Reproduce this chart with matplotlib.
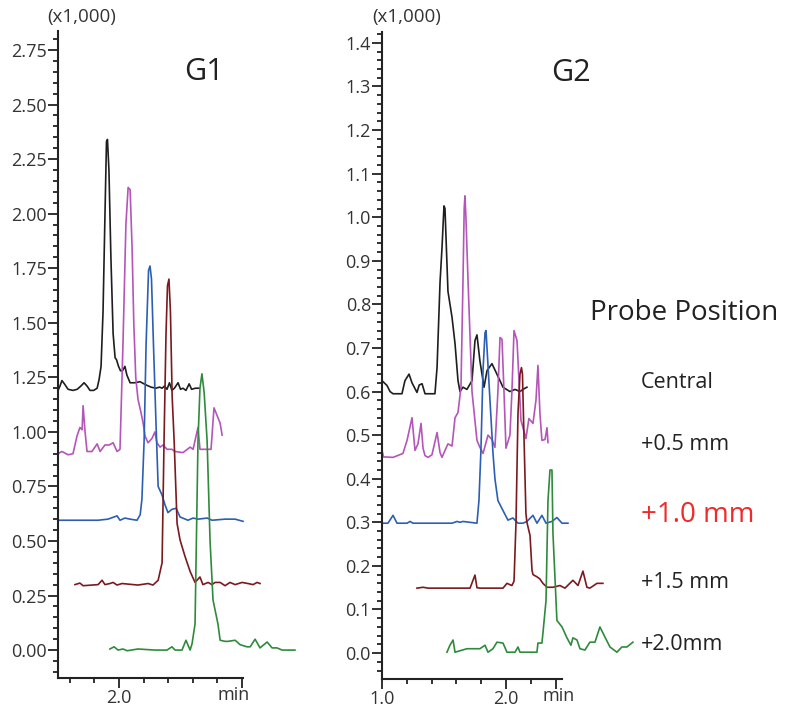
import numpy as np
import matplotlib
matplotlib.use("Agg")
import matplotlib.pyplot as plt
from matplotlib.ticker import MultipleLocator, FixedLocator
import matplotlib.transforms as mtransforms

plt.rcParams["font.family"] = ["Open Sans", "DejaVu Sans"]

# ---- G1 traces (time in min, intensity x1,000) ----
g1_central_t = [1.752, 1.760, 1.768, 1.778, 1.793, 1.813, 1.830, 1.845, 1.858, 1.870, 1.882, 1.897,
                1.911, 1.919, 1.927, 1.935, 1.943, 1.949, 1.953, 1.959, 1.967, 1.976, 1.984, 1.990,
                1.998, 2.006, 2.014, 2.024, 2.032, 2.045, 2.065, 2.085, 2.110, 2.130, 2.150, 2.165,
                2.175, 2.185, 2.195, 2.205, 2.215, 2.225, 2.240, 2.250, 2.260, 2.272, 2.285, 2.295,
                2.310, 2.325]
g1_central_y = [1.19, 1.21, 1.235, 1.22, 1.195, 1.19, 1.195, 1.21, 1.225, 1.21, 1.19, 1.19,
                1.20, 1.24, 1.30, 1.55, 2.00, 2.33, 2.34, 2.20, 1.80, 1.45, 1.34, 1.33,
                1.30, 1.28, 1.28, 1.30, 1.26, 1.225, 1.225, 1.23, 1.215, 1.205, 1.20, 1.205,
                1.20, 1.21, 1.195, 1.225, 1.19, 1.20, 1.225, 1.195, 1.20, 1.19, 1.22, 1.195,
                1.20, 1.20]

g1_p05_t = [1.752, 1.768, 1.793, 1.813, 1.829, 1.841, 1.850, 1.854, 1.862, 1.870, 1.890, 1.911,
            1.923, 1.943, 1.960, 1.976, 1.992, 2.004, 2.016, 2.028, 2.037, 2.045, 2.053, 2.060,
            2.068, 2.077, 2.089, 2.098, 2.106, 2.118, 2.134, 2.146, 2.154, 2.167, 2.179, 2.195,
            2.215, 2.228, 2.260, 2.289, 2.301, 2.321, 2.329, 2.374, 2.386, 2.411, 2.419]
g1_p05_y = [0.90, 0.91, 0.895, 0.90, 0.98, 1.02, 1.01, 1.12, 1.00, 0.91, 0.91, 0.945,
            0.91, 0.94, 0.94, 0.95, 0.91, 0.92, 1.40, 1.95, 2.12, 2.11, 1.85, 1.50,
            1.25, 1.15, 1.09, 1.04, 0.98, 0.95, 0.97, 1.00, 0.95, 0.93, 0.94, 0.92,
            0.92, 0.91, 0.905, 0.93, 0.92, 1.02, 0.92, 0.92, 1.11, 1.04, 0.985]

g1_p10_t = [1.752, 1.915, 1.955, 1.992, 2.004, 2.024, 2.045, 2.073, 2.086, 2.093, 2.102, 2.110,
            2.120, 2.126, 2.132, 2.140, 2.150, 2.159, 2.175, 2.187, 2.199, 2.215, 2.232, 2.248,
            2.280, 2.301, 2.321, 2.358, 2.378, 2.431, 2.472, 2.504]
g1_p10_y = [0.595, 0.595, 0.60, 0.615, 0.595, 0.605, 0.60, 0.595, 0.62, 0.69, 0.96, 1.40,
            1.74, 1.76, 1.70, 1.40, 1.05, 0.75, 0.71, 0.665, 0.63, 0.645, 0.65, 0.61,
            0.595, 0.605, 0.60, 0.605, 0.595, 0.60, 0.60, 0.59]

g1_p15_t = [1.821, 1.841, 1.854, 1.915, 1.931, 1.943, 1.963, 1.976, 1.992, 2.012, 2.077, 2.118,
            2.138, 2.159, 2.175, 2.183, 2.191, 2.197, 2.203, 2.209, 2.216, 2.224, 2.236, 2.248,
            2.268, 2.289, 2.309, 2.329, 2.341, 2.362, 2.378, 2.390, 2.411, 2.431, 2.451, 2.472,
            2.500, 2.524, 2.545, 2.561, 2.573]
g1_p15_y = [0.30, 0.307, 0.295, 0.30, 0.32, 0.30, 0.305, 0.31, 0.298, 0.305, 0.298, 0.305,
            0.298, 0.32, 0.40, 0.96, 1.45, 1.67, 1.70, 1.55, 1.16, 0.96, 0.58, 0.505,
            0.43, 0.36, 0.31, 0.335, 0.30, 0.31, 0.30, 0.31, 0.31, 0.295, 0.31, 0.30,
            0.31, 0.305, 0.30, 0.31, 0.305]

g1_p20_t = [1.963, 1.980, 1.996, 2.016, 2.033, 2.077, 2.146, 2.195, 2.215, 2.228, 2.256, 2.272,
            2.289, 2.297, 2.309, 2.321, 2.329, 2.337, 2.346, 2.358, 2.370, 2.382, 2.402, 2.411,
            2.431, 2.443, 2.472, 2.492, 2.520, 2.533, 2.553, 2.573, 2.602, 2.622, 2.642, 2.663,
            2.687, 2.715]
g1_p20_y = [0.005, 0.015, 0.0, 0.005, -0.003, 0.005, 0.0, 0.0, 0.015, 0.0, 0.0, 0.045,
            0.0, 0.03, 0.12, 0.96, 1.20, 1.266, 1.18, 0.96, 0.50, 0.23, 0.12, 0.045,
            0.04, 0.04, 0.045, 0.025, 0.015, 0.015, 0.05, 0.01, 0.037, 0.01, 0.01, 0.0,
            0.0, 0.0]

# ---- G2 traces ----
g2_central_t = [1.000, 1.040, 1.065, 1.089, 1.161, 1.185, 1.218, 1.242, 1.282, 1.300, 1.323, 1.347,
                1.427, 1.444, 1.468, 1.484, 1.500, 1.508, 1.532, 1.565, 1.589, 1.613, 1.629, 1.653,
                1.685, 1.726, 1.750, 1.766, 1.790, 1.823, 1.847, 1.887, 1.927, 1.976, 2.032, 2.073,
                2.113, 2.137, 2.169]
g2_central_y = [0.625, 0.614, 0.60, 0.595, 0.595, 0.625, 0.64, 0.62, 0.598, 0.615, 0.618, 0.595,
                0.595, 0.655, 0.85, 0.93, 1.026, 1.02, 0.83, 0.77, 0.71, 0.625, 0.60, 0.61,
                0.605, 0.625, 0.717, 0.73, 0.67, 0.61, 0.648, 0.664, 0.64, 0.61, 0.60, 0.605,
                0.60, 0.605, 0.61]

g2_p05_t = [1.000, 1.012, 1.024, 1.089, 1.169, 1.202, 1.242, 1.266, 1.290, 1.315, 1.331, 1.347,
            1.371, 1.403, 1.444, 1.468, 1.484, 1.508, 1.532, 1.565, 1.589, 1.613, 1.637, 1.653,
            1.663, 1.669, 1.677, 1.694, 1.726, 1.766, 1.790, 1.815, 1.855, 1.887, 1.911, 1.935,
            1.952, 1.968, 1.984, 2.000, 2.032, 2.048, 2.065, 2.089, 2.121, 2.161, 2.185, 2.218,
            2.242, 2.258, 2.274, 2.290, 2.315, 2.331, 2.339]
g2_p05_y = [0.465, 0.45, 0.45, 0.449, 0.458, 0.488, 0.54, 0.465, 0.48, 0.527, 0.47, 0.453,
            0.449, 0.455, 0.506, 0.46, 0.449, 0.465, 0.48, 0.475, 0.54, 0.552, 0.61, 0.85,
            1.02, 1.049, 1.00, 0.854, 0.60, 0.488, 0.472, 0.458, 0.50, 0.49, 0.472, 0.60,
            0.724, 0.72, 0.60, 0.47, 0.50, 0.60, 0.74, 0.717, 0.534, 0.492, 0.538, 0.527,
            0.58, 0.66, 0.55, 0.488, 0.49, 0.517, 0.483]

g2_p10_t = [1.000, 1.048, 1.089, 1.121, 1.202, 1.226, 1.250, 1.565, 1.605, 1.629, 1.653, 1.766,
            1.782, 1.798, 1.815, 1.831, 1.839, 1.847, 1.863, 1.871, 1.895, 1.911, 1.935, 1.976,
            2.016, 2.056, 2.097, 2.137, 2.169, 2.218, 2.250, 2.290, 2.323, 2.371, 2.411, 2.452,
            2.500]
g2_p10_y = [0.298, 0.298, 0.316, 0.298, 0.298, 0.302, 0.298, 0.298, 0.302, 0.30, 0.302, 0.298,
            0.35, 0.465, 0.65, 0.735, 0.74, 0.70, 0.62, 0.58, 0.46, 0.40, 0.35, 0.327,
            0.305, 0.31, 0.298, 0.298, 0.302, 0.316, 0.298, 0.316, 0.298, 0.302, 0.311, 0.298,
            0.298]

g2_p15_t = [1.282, 1.331, 1.371, 1.710, 1.734, 1.750, 1.766, 1.790, 1.976, 2.008, 2.048, 2.065,
            2.081, 2.097, 2.113, 2.125, 2.133, 2.145, 2.161, 2.169, 2.194, 2.210, 2.218, 2.250,
            2.274, 2.298, 2.331, 2.379, 2.435, 2.476, 2.540, 2.581, 2.621, 2.653, 2.677, 2.734,
            2.782]
g2_p15_y = [0.149, 0.151, 0.149, 0.149, 0.167, 0.179, 0.15, 0.149, 0.149, 0.16, 0.155, 0.165,
            0.30, 0.55, 0.64, 0.655, 0.64, 0.50, 0.32, 0.30, 0.27, 0.19, 0.18, 0.175,
            0.17, 0.16, 0.151, 0.151, 0.155, 0.149, 0.167, 0.155, 0.188, 0.151, 0.149, 0.16,
            0.16]

g2_p20_t = [1.524, 1.548, 1.573, 1.589, 1.685, 1.790, 1.831, 1.855, 1.895, 1.927, 1.976, 2.008,
            2.073, 2.097, 2.113, 2.250, 2.258, 2.290, 2.298, 2.323, 2.339, 2.355, 2.371, 2.379,
            2.411, 2.452, 2.492, 2.524, 2.540, 2.573, 2.597, 2.637, 2.677, 2.718, 2.758, 2.798,
            2.839, 2.895, 2.935, 2.976, 3.024]
g2_p20_y = [0.002, 0.018, 0.03, 0.002, 0.01, 0.01, 0.018, 0.002, 0.01, 0.025, 0.023, 0.002,
            0.002, 0.014, 0.002, 0.002, 0.023, 0.023, 0.045, 0.12, 0.35, 0.42, 0.42, 0.275,
            0.075, 0.06, 0.035, 0.018, 0.035, 0.03, 0.01, 0.007, 0.025, 0.025, 0.06, 0.037,
            0.014, 0.002, 0.014, 0.014, 0.025]

positions = ["Central", "+0.5 mm", "+1.0 mm", "+1.5 mm", "+2.0mm"]
colors = ["#1e1e1e", "#b455b9", "#2c5fb3", "#7b1a1e", "#2f8a3c"]

g1_xticks = [2.0, 2.5]
g1_xlabels = ["2.0", ""]
g2_xticks = [1.0, 2.0, 2.4]
g2_xlabels = ["1.0", "2.0", ""]

g1_traces = [(g1_central_t, g1_central_y), (g1_p05_t, g1_p05_y), (g1_p10_t, g1_p10_y),
             (g1_p15_t, g1_p15_y), (g1_p20_t, g1_p20_y)]
g2_traces = [(g2_central_t, g2_central_y), (g2_p05_t, g2_p05_y), (g2_p10_t, g2_p10_y),
             (g2_p15_t, g2_p15_y), (g2_p20_t, g2_p20_y)]

txt = "#333333"
fig = plt.figure(figsize=(7.87, 7.14), dpi=100)
ax1 = fig.add_axes([0.0737, 0.0504, 0.2351, 0.9062])
ax2 = fig.add_axes([0.4854, 0.0490, 0.2287, 0.9062])

def style(ax, xlim, ylim, ymaj, ymin_, xmaj, xlabs, xmin_, ylabfmt, min_x):
    ax.set_xlim(*xlim)
    ax.set_ylim(*ylim)
    for s in ["top", "right"]:
        ax.spines[s].set_visible(False)
    for s in ["left", "bottom"]:
        ax.spines[s].set_linewidth(1.5)
        ax.spines[s].set_color("#222222")
    ax.yaxis.set_major_locator(MultipleLocator(ymaj))
    ax.yaxis.set_minor_locator(MultipleLocator(ymin_))
    ax.xaxis.set_major_locator(FixedLocator(xmaj))
    ax.xaxis.set_minor_locator(MultipleLocator(xmin_))
    ax.yaxis.set_major_formatter(ylabfmt)
    ax.set_xticklabels(xlabs)
    ax.tick_params(axis="both", which="major", length=7, width=1.3, color="#222222",
                   labelsize=13, labelcolor=txt, pad=1)
    ax.tick_params(axis="both", which="minor", length=3.5, width=1.3, color="#222222")
    tr = mtransforms.blended_transform_factory(ax.transData, ax.transAxes)
    ax.text(min_x, -0.012, "min", transform=tr, ha="center", va="top", fontsize=13, color=txt)

style(ax1, (1.752, 2.504), (-0.128, 2.837), 0.25, 0.05, g1_xticks, g1_xlabels, 0.1,
      "{x:.2f}", 2.467)
style(ax2, (1.0, 2.452), (-0.0595, 1.425), 0.1, 0.02, g2_xticks, g2_xlabels, 0.2,
      "{x:.1f}", 2.427)

for ax, traces in [(ax1, g1_traces), (ax2, g2_traces)]:
    for (t, y), c in zip(traces, colors):
        ax.plot(t, y, color=c, lw=1.2, clip_on=False)

fig.text(47 / 787, 1 - 17 / 714, "(x1,000)", fontsize=13.5, color=txt, ha="left", va="center")
fig.text(372 / 787, 1 - 17 / 714, "(x1,000)", fontsize=13.5, color=txt, ha="left", va="center")
fig.text(204 / 787, 1 - 72 / 714, "G1", fontsize=22, color="#222222", ha="center", va="center")
fig.text(571 / 787, 1 - 73 / 714, "G2", fontsize=22, color="#222222", ha="center", va="center")

fig.text(590 / 787, 1 - 313 / 714, "Probe Position", fontsize=20, color="#222222",
         ha="left", va="center")
label_y = [383, 445, 515, 582, 645]
for lab, yy in zip(positions, label_y):
    big = lab == "+1.0 mm"
    fig.text(641 / 787, 1 - yy / 714, lab, fontsize=20 if big else 15.5,
             color="#ee2a2a" if big else "#222222", ha="left", va="center")

fig.savefig("out.png", dpi=100)
